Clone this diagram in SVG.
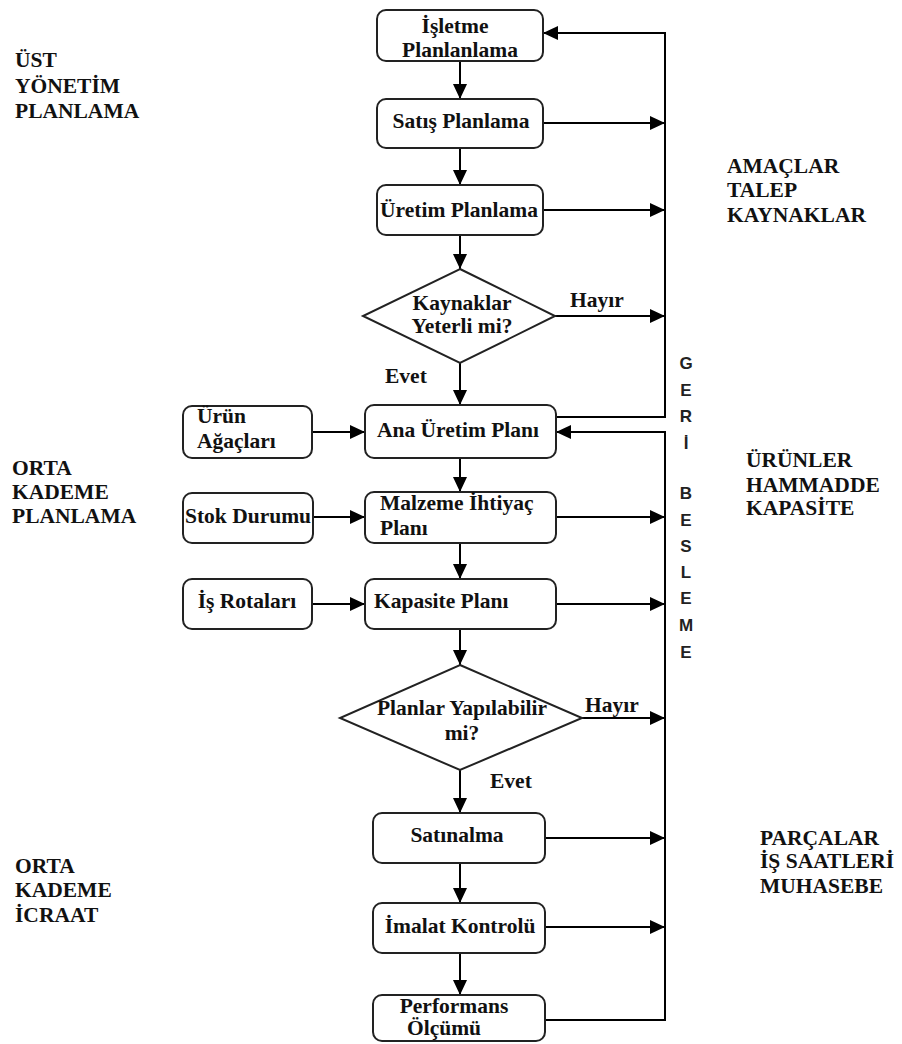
<svg xmlns="http://www.w3.org/2000/svg" width="902" height="1044" viewBox="0 0 902 1044">
<defs>
<marker id="ah" viewBox="0 0 15 14" refX="15" refY="7" markerWidth="15" markerHeight="14" markerUnits="userSpaceOnUse" orient="auto">
<path d="M0,0 L15,7 L0,14 z" fill="#000"/>
</marker>
</defs>
<rect width="902" height="1044" fill="#fff"/>

<g id="connectors" fill="none" stroke="#000" stroke-width="2" marker-end="url(#ah)">
<line x1="460" y1="61" x2="460" y2="99"/>
<line x1="460" y1="148" x2="460" y2="185"/>
<line x1="460" y1="235" x2="460" y2="269"/>
<line x1="460" y1="363" x2="460" y2="405"/>
<line x1="460" y1="458" x2="460" y2="492"/>
<line x1="460" y1="543" x2="460" y2="579"/>
<line x1="460" y1="629" x2="460" y2="665"/>
<line x1="460" y1="770" x2="460" y2="813"/>
<line x1="460" y1="863" x2="460" y2="903"/>
<line x1="460" y1="953" x2="460" y2="995"/>
<line x1="543" y1="123" x2="665" y2="123"/>
<line x1="543" y1="210" x2="665" y2="210"/>
<line x1="555" y1="316" x2="665" y2="316"/>
<line x1="556" y1="517" x2="665" y2="517"/>
<line x1="556" y1="604" x2="665" y2="604"/>
<line x1="582" y1="718" x2="665" y2="718"/>
<line x1="545" y1="838" x2="665" y2="838"/>
<line x1="545" y1="927" x2="665" y2="927"/>
<line x1="312" y1="432" x2="365" y2="432"/>
<line x1="313" y1="517" x2="365" y2="517"/>
<line x1="312" y1="604" x2="365" y2="604"/>
<polyline points="556,417 665,417 665,33 543,33"/>
<polyline points="545,1020 665,1020 665,432 556,432"/>
</g>

<g id="n1"><rect fill="#fff" stroke="#222" stroke-width="2" x="377" y="10" width="166" height="51" rx="9"/>
<text x="455" y="33" text-anchor="middle" font-family="Liberation Serif, serif" font-weight="bold" font-size="21.5" fill="#111">İşletme</text>
<text x="460" y="57" text-anchor="middle" font-family="Liberation Serif, serif" font-weight="bold" font-size="21.5" fill="#111">Planlanlama</text></g>
<g id="n2"><rect fill="#fff" stroke="#222" stroke-width="2" x="377" y="99" width="166" height="49" rx="9"/>
<text x="461" y="128" text-anchor="middle" font-family="Liberation Serif, serif" font-weight="bold" font-size="21.5" fill="#111">Satış Planlama</text></g>
<g id="n3"><rect fill="#fff" stroke="#222" stroke-width="2" x="377" y="185" width="166" height="50" rx="9"/>
<text x="459" y="217" text-anchor="middle" font-family="Liberation Serif, serif" font-weight="bold" font-size="21.5" fill="#111">Üretim Planlama</text></g>
<g id="d1"><polygon fill="#fff" stroke="#222" stroke-width="2" points="460,269 555,316 460,363 363,316"/>
<text x="462" y="310" text-anchor="middle" font-family="Liberation Serif, serif" font-weight="bold" font-size="21.5" fill="#111">Kaynaklar</text>
<text x="462" y="333" text-anchor="middle" font-family="Liberation Serif, serif" font-weight="bold" font-size="21.5" fill="#111">Yeterli mi?</text></g>
<text id="hayir1" x="570" y="307" font-family="Liberation Serif, serif" font-weight="bold" font-size="21.5" fill="#111">Hayır</text>
<text id="evet1" x="385" y="383" font-family="Liberation Serif, serif" font-weight="bold" font-size="21.5" fill="#111">Evet</text>
<g id="n4"><rect fill="#fff" stroke="#222" stroke-width="2" x="365" y="405" width="191" height="53" rx="9"/>
<text x="458" y="437" text-anchor="middle" font-family="Liberation Serif, serif" font-weight="bold" font-size="21.5" fill="#111">Ana Üretim Planı</text></g>
<g id="n5"><rect fill="#fff" stroke="#222" stroke-width="2" x="365" y="492" width="191" height="51" rx="9"/>
<text x="380" y="510" font-family="Liberation Serif, serif" font-weight="bold" font-size="21.5" fill="#111">Malzeme İhtiyaç</text>
<text x="380" y="535" font-family="Liberation Serif, serif" font-weight="bold" font-size="21.5" fill="#111">Planı</text></g>
<g id="n6"><rect fill="#fff" stroke="#222" stroke-width="2" x="365" y="579" width="191" height="50" rx="9"/>
<text x="374" y="608" font-family="Liberation Serif, serif" font-weight="bold" font-size="21.5" fill="#111">Kapasite Planı</text></g>
<g id="l1"><rect fill="#fff" stroke="#222" stroke-width="2" x="183" y="406" width="129" height="52" rx="9"/>
<text x="197" y="423" font-family="Liberation Serif, serif" font-weight="bold" font-size="21.5" fill="#111">Ürün</text>
<text x="197" y="448" font-family="Liberation Serif, serif" font-weight="bold" font-size="21.5" fill="#111">Ağaçları</text></g>
<g id="l2"><rect fill="#fff" stroke="#222" stroke-width="2" x="183" y="493" width="130" height="50" rx="9"/>
<text x="185" y="523" font-family="Liberation Serif, serif" font-weight="bold" font-size="21.5" fill="#111">Stok Durumu</text></g>
<g id="l3"><rect fill="#fff" stroke="#222" stroke-width="2" x="183" y="579" width="129" height="50" rx="9"/>
<text x="247" y="608" text-anchor="middle" font-family="Liberation Serif, serif" font-weight="bold" font-size="21.5" fill="#111">İş Rotaları</text></g>
<g id="d2"><polygon fill="#fff" stroke="#222" stroke-width="2" points="460,665 582,718 460,770 340,718"/>
<text x="462" y="715" text-anchor="middle" font-family="Liberation Serif, serif" font-weight="bold" font-size="21.5" fill="#111">Planlar Yapılabilir</text>
<text x="462" y="740" text-anchor="middle" font-family="Liberation Serif, serif" font-weight="bold" font-size="21.5" fill="#111">mi?</text></g>
<text id="hayir2" x="585" y="712" font-family="Liberation Serif, serif" font-weight="bold" font-size="21.5" fill="#111">Hayır</text>
<text id="evet2" x="490" y="788" font-family="Liberation Serif, serif" font-weight="bold" font-size="21.5" fill="#111">Evet</text>
<g id="n7"><rect fill="#fff" stroke="#222" stroke-width="2" x="373" y="813" width="172" height="50" rx="9"/>
<text x="457" y="842" text-anchor="middle" font-family="Liberation Serif, serif" font-weight="bold" font-size="21.5" fill="#111">Satınalma</text></g>
<g id="n8"><rect fill="#fff" stroke="#222" stroke-width="2" x="373" y="903" width="172" height="50" rx="9"/>
<text x="460" y="933" text-anchor="middle" font-family="Liberation Serif, serif" font-weight="bold" font-size="21.5" fill="#111">İmalat Kontrolü</text></g>
<g id="n9"><rect fill="#fff" stroke="#222" stroke-width="2" x="373" y="995" width="172" height="46" rx="9"/>
<text x="454" y="1013" text-anchor="middle" font-family="Liberation Serif, serif" font-weight="bold" font-size="21.5" fill="#111">Performans</text>
<text x="444" y="1035" text-anchor="middle" font-family="Liberation Serif, serif" font-weight="bold" font-size="21.5" fill="#111">Ölçümü</text></g>

<g id="labels">
<text x="15" y="67" font-family="Liberation Serif, serif" font-weight="bold" font-size="21.5" fill="#111">ÜST</text>
<text x="15" y="93" font-family="Liberation Serif, serif" font-weight="bold" font-size="21.5" fill="#111">YÖNETİM</text>
<text x="15" y="118" font-family="Liberation Serif, serif" font-weight="bold" font-size="21.5" fill="#111">PLANLAMA</text>
<text x="12" y="475" font-family="Liberation Serif, serif" font-weight="bold" font-size="21.5" fill="#111">ORTA</text>
<text x="12" y="499" font-family="Liberation Serif, serif" font-weight="bold" font-size="21.5" fill="#111">KADEME</text>
<text x="12" y="523" font-family="Liberation Serif, serif" font-weight="bold" font-size="21.5" fill="#111">PLANLAMA</text>
<text x="15" y="873" font-family="Liberation Serif, serif" font-weight="bold" font-size="21.5" fill="#111">ORTA</text>
<text x="15" y="897" font-family="Liberation Serif, serif" font-weight="bold" font-size="21.5" fill="#111">KADEME</text>
<text x="15" y="922" font-family="Liberation Serif, serif" font-weight="bold" font-size="21.5" fill="#111">İCRAAT</text>
<text x="727" y="173" font-family="Liberation Serif, serif" font-weight="bold" font-size="21.5" fill="#111">AMAÇLAR</text>
<text x="727" y="197" font-family="Liberation Serif, serif" font-weight="bold" font-size="21.5" fill="#111">TALEP</text>
<text x="727" y="222" font-family="Liberation Serif, serif" font-weight="bold" font-size="21.5" fill="#111">KAYNAKLAR</text>
<text x="746" y="467" font-family="Liberation Serif, serif" font-weight="bold" font-size="21.5" fill="#111">ÜRÜNLER</text>
<text x="746" y="492" font-family="Liberation Serif, serif" font-weight="bold" font-size="21.5" fill="#111">HAMMADDE</text>
<text x="746" y="515" font-family="Liberation Serif, serif" font-weight="bold" font-size="21.5" fill="#111">KAPASİTE</text>
<text x="760" y="845" font-family="Liberation Serif, serif" font-weight="bold" font-size="21.5" fill="#111">PARÇALAR</text>
<text x="760" y="868" font-family="Liberation Serif, serif" font-weight="bold" font-size="21.5" fill="#111">İŞ SAATLERİ</text>
<text x="760" y="893" font-family="Liberation Serif, serif" font-weight="bold" font-size="21.5" fill="#111">MUHASEBE</text>
</g>
<g id="geri-besleme" font-family="Liberation Sans, sans-serif" font-weight="bold" font-size="17" fill="#222" text-anchor="middle">
<text x="686" y="369">G</text><text x="686" y="396">E</text><text x="686" y="422">R</text><text x="686" y="449">İ</text>
<text x="686" y="499">B</text><text x="686" y="526">E</text><text x="686" y="552">S</text><text x="686" y="578">L</text><text x="686" y="604">E</text><text x="686" y="631">M</text><text x="686" y="658">E</text>
</g>
</svg>
